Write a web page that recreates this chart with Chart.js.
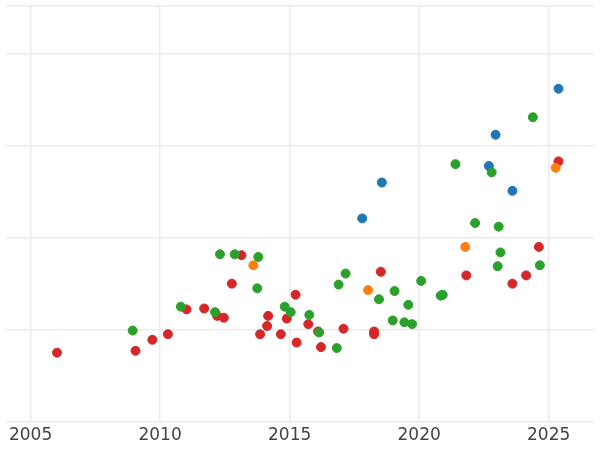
<!DOCTYPE html>
<html>
<head>
<meta charset="utf-8">
<script src="https://cdn.jsdelivr.net/npm/chart.js@4"></script>
<style>
    html, body { margin: 0; padding: 0; background: #fff; }
    #wrap { width: 600px; height: 450px; }
</style>
</head>
<body>
<div id="wrap"><canvas id="chart"></canvas></div>
<script>
// ── Données (année, valeur) par série ──
const ROUGE_X  = [2006.02, 2009.05, 2009.70, 2010.30, 2011.02, 2011.70, 2012.20, 2012.46, 2012.77, 2013.14,
                  2013.86, 2014.13, 2014.17, 2014.66, 2014.89, 2015.23, 2015.27, 2015.72, 2016.10, 2016.21,
                  2017.08, 2018.26, 2018.26, 2018.52, 2021.82, 2023.60, 2024.13, 2024.62, 2025.38];
const ROUGE_Y  = [0.75, 0.77, 0.89, 0.95, 1.22, 1.23, 1.15, 1.13, 1.50, 1.81,
                  0.95, 1.04, 1.15, 0.95, 1.12, 1.38, 0.86, 1.06, 0.98, 0.81,
                  1.01, 0.98, 0.95, 1.63, 1.59, 1.50, 1.59, 1.90, 2.83];
const ORANGE_X = [2013.60, 2018.03, 2021.78, 2025.27];
const ORANGE_Y = [1.70, 1.43, 1.90, 2.76];
const BLEU_X   = [2017.80, 2018.56, 2022.69, 2022.95, 2023.60, 2025.38];
const BLEU_Y   = [2.21, 2.60, 2.78, 3.12, 2.51, 3.62];
const VERT_X   = [2008.94, 2010.80, 2012.12, 2012.31, 2012.88, 2013.79, 2013.75, 2014.81, 2015.04, 2015.76,
                  2016.14, 2016.82, 2016.89, 2017.16, 2018.45, 2019.05, 2018.98, 2019.43, 2019.58, 2019.73,
                  2020.08, 2020.83, 2020.91, 2021.40, 2022.16, 2022.80, 2023.03, 2023.07, 2023.14, 2024.39,
                  2024.66];
const VERT_Y   = [0.99, 1.25, 1.19, 1.82, 1.82, 1.79, 1.45, 1.25, 1.19, 1.16,
                  0.97, 0.80, 1.49, 1.61, 1.33, 1.42, 1.10, 1.08, 1.27, 1.06,
                  1.53, 1.37, 1.38, 2.80, 2.16, 2.71, 1.69, 2.12, 1.84, 3.31,
                  1.70];
const TICKS_X  = [2005, 2010, 2015, 2020, 2025];

function points(xs, ys) {
    return xs.map((x, i) => ({ x: x, y: ys[i] }));
}

function serie(xs, ys, couleur) {
    return {
        data: points(xs, ys),
        backgroundColor: couleur,
        borderColor: couleur,
        pointRadius: 4.5,
        pointHoverRadius: 5
    };
}

new Chart(document.getElementById('chart'), {
    type: 'scatter',
    data: {
        datasets: [
            serie(VERT_X, VERT_Y, '#2ca02c'),
            serie(BLEU_X, BLEU_Y, '#1f77b4'),
            serie(ORANGE_X, ORANGE_Y, '#ff7f0e'),
            serie(ROUGE_X, ROUGE_Y, '#d62728')
        ]
    },
    options: {
        responsive: true,
        maintainAspectRatio: false,
        animation: false,
        layout: { padding: 0 },
        plugins: { legend: { display: false }, tooltip: { enabled: false } },
        scales: {
            x: {
                type: 'linear',
                min: 2004.05,
                max: 2026.75,
                afterBuildTicks: axis => { axis.ticks = TICKS_X.map(v => ({ value: v })); },
                grid: { color: '#ebebeb', lineWidth: 1.5, drawTicks: false },
                border: { display: false },
                ticks: {
                    color: '#444',
                    font: { family: 'DejaVu Sans', size: 17 },
                    padding: 4,
                    callback: v => String(v)
                }
            },
            y: {
                min: 0,
                max: 4.52,
                ticks: { display: false, stepSize: 1 },
                grid: { color: '#ebebeb', lineWidth: 1.5, drawTicks: false },
                border: { display: false }
            }
        }
    }
});
</script>
</body>
</html>
